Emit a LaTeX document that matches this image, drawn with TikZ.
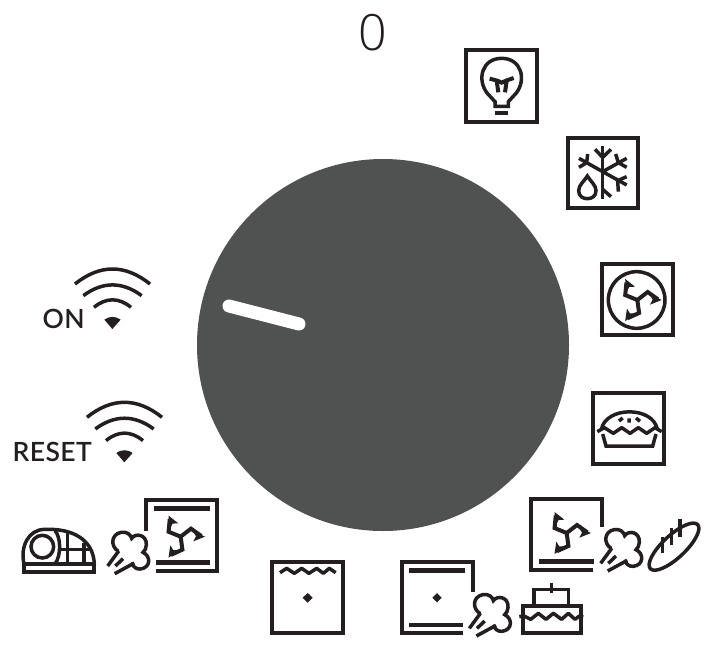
\documentclass[tikz,border=0pt]{standalone}
\usepackage{fontspec}
\setmainfont{Lato}
\newfontfamily\labelfont[LetterSpace=1.5]{Lato Semibold}
\newfontfamily\zerofont{Open Sans Light}
\definecolor{ink}{HTML}{231F20}
\definecolor{dial}{HTML}{505251}
\tikzset{
  z/.style 2 args={shift={(#1,#2)},x=0.33333pt,y=-0.33333pt},
  ln/.style={draw=ink,line width=3.5pt,line join=miter},
  fanln/.style={draw=ink,line width=4pt,line join=miter},
  frame/.style={draw=ink,line width=4pt,line join=miter},
  bar/.style={draw=ink,line width=4.5pt},
  lbl/.style={text=ink,inner sep=0pt,anchor=base west,font=\labelfont\fontsize{26.5}{26.5}\selectfont},
}
% fan glyph, in 3x units, centred on #1,#2
\newcommand\fanglyph[2]{%
  \foreach \r in {0,120,240}{%
    \begin{scope}[shift={(#1,#2)},rotate=\r]
      \draw[fanln] (0,0) -- (31,-24) -- (62,-2);
      \fill[ink] (73,0) -- (36,-18) -- (46,-1) -- (38,14) -- cycle;
    \end{scope}}}
% steam, in the units of crop (510,485)
\newcommand\steamglyph{%
  \draw[ln,line cap=round] (303,190) .. controls (280,175) and (282,140) .. (312,134)
     .. controls (330,130) and (342,142) .. (344,152)
     .. controls (355,135) and (390,140) .. (388,172)
     .. controls (388,182) and (383,190) .. (378,194)
     .. controls (402,205) and (402,240) .. (370,244)
     .. controls (358,245) and (350,238) .. (345,228);
  \draw[ln] (272,235) -- (305,190);
  \draw[ln] (295,235) -- (318,213);
  \draw[ln] (293,258) -- (352,226);}
% wifi, in the units of crop (0,260)
\newcommand\wifiglyph{%
  \draw[ln] (225,72) .. controls (300,12) and (375,12) .. (450,72);
  \draw[ln] (250,107) .. controls (308,64) and (367,64) .. (425,107);
  \draw[ln] (282,142) .. controls (318,112) and (357,112) .. (393,142);
  \fill[ink] (313,179) .. controls (328,168) and (347,168) .. (362,179) -- (337,207) -- cycle;}
\begin{document}
\begin{tikzpicture}[x=1pt,y=-1pt]
\useasboundingbox (0,0) rectangle (709,645);
% dial
\node[circle,fill=dial,draw=none,minimum size=372pt,inner sep=0pt] (knob) at (383,345) {};
\coordinate (ptrA) at (229,306);
\coordinate (ptrB) at (299,324);
\draw[white,line width=13pt,line cap=round] (ptrA) -- (ptrB);
% zero
\node[text=ink,inner sep=0pt,font=\zerofont\fontsize{50}{50}\selectfont] (zero) at (373,33) {0};
% labels
\node[lbl] (on) at (42.5,328) {ON};
\node[lbl] (reset) at (12.5,461.7) {RESET};
% wifi
\begin{scope}[z={0}{260}] \wifiglyph \end{scope}
\begin{scope}[z={12}{393.3}] \wifiglyph \end{scope}
% bulb + snow
\begin{scope}[z={450}{30}]
  \draw[frame] (48,61) rectangle (261,275);
  \draw[ln] (112,190) .. controls (80,150) and (95,85) .. (155,85)
     .. controls (215,85) and (230,150) .. (198,190) -- (175,215) -- (175,229) -- (135,229) -- (135,215) -- cycle;
  \draw[ink,line width=4pt] (135,250) -- (175,250);
  \draw[ink,line width=4pt] (119,146) -- (142,152) -- (155,158) -- (168,152) -- (191,144);
  \draw[ink,line width=4pt] (140,152) -- (145,187) (170,152) -- (165,187);
  \draw[frame] (353,323) rectangle (565,535);
  \draw[ln] (458,348) -- (458,508);
  \draw[ln] (435,358) -- (458,382) -- (483,358);
  \draw[ln] (458,425) -- (530,385) (458,425) -- (387,385) (458,425) -- (530,465);
  \draw[ln] (497,372) -- (505,398) -- (530,412);
  \draw[ln] (413,372) -- (410,398) -- (387,412);
  \draw[ln] (530,440) -- (503,452) -- (505,485);
  \draw[ln] (458,478) -- (483,500);
  \draw[ln] (412,438) .. controls (402,455) and (386,465) .. (386,482)
     .. controls (386,500) and (400,506) .. (412,506)
     .. controls (424,506) and (438,500) .. (438,482)
     .. controls (438,465) and (422,455) .. (412,438) -- cycle;
\end{scope}
% fan + pie
\begin{scope}[z={580}{250}]
  \draw[frame] (66,43) rectangle (279,256);
  \draw[ln] (170,150) circle[radius=85];
  \fanglyph{172}{150}
  \draw[frame] (40,429) rectangle (253,642);
  \draw[ln] (64,538) .. controls (78,468) and (219,468) .. (232,538);
  \draw[ln,line join=round] (52,545) -- (73,533) -- (100,550) -- (125,533) -- (150,550) -- (175,533) -- (200,550) -- (225,533) -- (245,545);
  \draw[ln] (68,552) -- (78,588) -- (218,588) -- (228,552);
  \draw[ln] (117,513) -- (128,504) (147,505) -- (147,518) (168,504) -- (180,514);
\end{scope}
% fan + steam + bread
\begin{scope}[z={510}{485}]
  \draw[frame] (277,127) -- (277,41) -- (64,41) -- (64,254) -- (250,254);
  \draw[bar] (88,229) -- (252,229);
  \fanglyph{170}{144}
  \steamglyph
  \draw[ln,rotate around={43:(492,185)}] (492,185) ellipse[x radius=97,y radius=34];
  \draw[ln] (458,155) -- (458,205) (485,130) -- (485,180) (510,103) -- (510,155);
\end{scope}
% bake
\begin{scope}[z={260}{550}]
  \draw[frame] (36,36) rectangle (249,249);
  \draw[ln,line join=round] (60,68) -- (80,55) -- (103,70) -- (125,55) -- (147,70) -- (170,55) -- (190,70) -- (208,55) -- (227,68);
  \fill[ink] (143,129) -- (158,143) -- (143,158) -- (128,143) -- cycle;
\end{scope}
% bake + steam + cake
\begin{scope}[z={390}{550}]
  \draw[frame] (249,125) -- (249,36) -- (35,36) -- (35,250) -- (218,250);
  \draw[bar] (57,62) -- (225,62);
  \draw[bar] (57,225) -- (218,225);
  \fill[ink] (141,129) -- (155,143) -- (141,157) -- (127,143) -- cycle;
  \draw[frame] (398,168) rectangle (572,250);
  \draw[ln] (432,168) -- (432,118) -- (535,118) -- (535,168);
  \draw[ln] (484,98) -- (484,130);
  \draw[ln,line join=round] (388,200) -- (402,198) -- (422,208) -- (445,190) -- (468,208) -- (490,190) -- (515,208) -- (535,190) -- (555,208) -- (568,198) -- (580,200);
\end{scope}
\begin{scope}[z={378.7}{550}] \steamglyph \end{scope}
% steam + fan + roast
\begin{scope}[z={10}{490}]
  \draw[frame] (408,122) -- (408,30) -- (622,30) -- (622,243) -- (438,243);
  \draw[bar] (432,55) -- (600,55);
  \draw[bar] (438,218) -- (600,218);
  \fanglyph{512}{140}
  \draw[frame] (42,222) rectangle (253,245);
  \draw[ln] (42,222) .. controls (30,170) and (55,118) .. (105,118)
     .. controls (190,115) and (250,150) .. (253,222);
  \draw[ln] (97,170) circle[radius=34];
  \draw[ln] (135,122) .. controls (152,140) and (155,195) .. (135,222);
  \draw[ln] (172,125) -- (172,222) (222,160) -- (222,222) (150,178) -- (245,178);
\end{scope}
\begin{scope}[z={17}{487.7}] \steamglyph \end{scope}
\end{tikzpicture}
\end{document}
